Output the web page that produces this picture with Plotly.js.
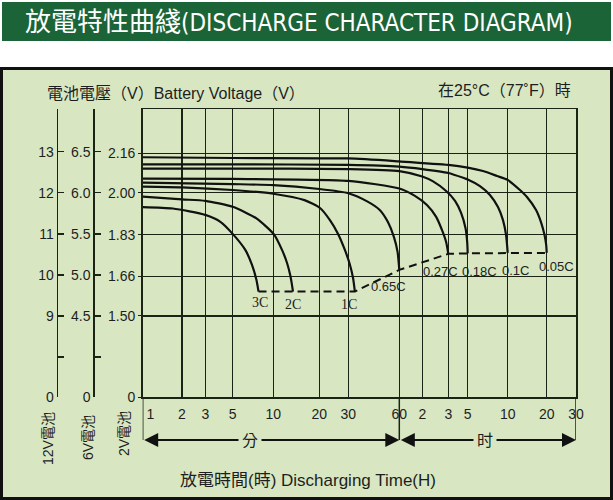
<!DOCTYPE html>
<html><head><meta charset="utf-8">
<script src="https://cdn.plot.ly/plotly-3.0.1.min.js"></script>
<style>html,body{margin:0;padding:0;background:#fff;} #chart{width:613px;height:500px;}</style>
</head><body><div id="chart"></div>
<script>
// ===== DATA =====
// time axis ticks (minutes) and their labels (minutes up to 60, then hours)
const tickMinutes = [1, 2, 3, 5, 10, 20, 30, 60, 120, 180, 300, 600, 1200, 1800];
const tickLabels  = ['1','2','3','5','10','20','30','60','2','3','5','10','20','30'];
// voltage ticks
const volt2V  = [1.50, 1.66, 1.83, 2.00, 2.16];
const volt2VLabels = ['1.50','1.66','1.83','2.00','2.16'];
const volt6V  = [4, 4.5, 5.0, 5.5, 6.0, 6.5];
const volt6VLabels = ['', '4.5', '5.0', '5.5', '6.0', '6.5'];
const volt12V = [8, 9, 10, 11, 12, 13];
const volt12VLabels = ['', '9', '10', '11', '12', '13'];

// discharge curves: time (minutes) and per-cell voltage (V)
const rates = ['3C','2C','1C','0.65C','0.27C','0.18C','0.1C','0.05C'];
const t_3C   = [1, 1.7, 3, 4, 5, 6.2, 6.95, 7.5, 7.77];
const v_3C   = [1.942, 1.936, 1.910, 1.881, 1.833, 1.768, 1.707, 1.646, 1.599];
const t_2C   = [1, 2, 3, 5, 7.5, 10.1, 11.4, 12.3, 12.9, 13.25, 13.45];
const v_2C   = [1.984, 1.973, 1.967, 1.943, 1.896, 1.831, 1.768, 1.715, 1.666, 1.626, 1.599];
const t_1C   = [1, 2, 5, 10, 16, 20.2, 23.2, 26, 28.6, 30.7, 32, 32.8];
const v_1C   = [2.025, 2.022, 2.011, 1.996, 1.970, 1.938, 1.889, 1.833, 1.768, 1.707, 1.654, 1.599];
const t_065C = [1, 5, 10, 20, 30, 39, 46, 51.4, 55.8, 58.6, 60];
const v_065C = [2.041, 2.035, 2.031, 2.015, 1.998, 1.964, 1.930, 1.881, 1.820, 1.760, 1.687];
const t_027C = [1, 5, 30, 60, 96, 129, 149, 163, 174, 180];
const v_027C = [2.057, 2.056, 2.048, 2.017, 1.987, 1.950, 1.902, 1.849, 1.800, 1.752];
const t_018C = [1, 5, 30, 60, 120, 142, 174, 215, 252, 283, 296, 300];
const v_018C = [2.098, 2.098, 2.096, 2.088, 2.066, 2.046, 2.007, 1.967, 1.918, 1.857, 1.800, 1.754];
const t_01C  = [1, 5, 30, 60, 120, 180, 279, 300, 371, 441, 507, 553, 583, 600];
const v_01C  = [2.115, 2.115, 2.113, 2.106, 2.096, 2.080, 2.058, 2.054, 2.027, 1.991, 1.942, 1.889, 1.829, 1.756];
const t_005C = [1, 5, 30, 60, 180, 300, 391, 498, 600, 746, 845, 993, 1084, 1154, 1189, 1200];
const v_005C = [2.144, 2.141, 2.139, 2.127, 2.113, 2.102, 2.088, 2.068, 2.052, 2.011, 1.983, 1.930, 1.881, 1.829, 1.788, 1.756];
// end-of-discharge (cut-off) line
const t_cut = [7.77, 13.45, 32.8, 60, 180, 300, 600, 1200];
const v_cut = [1.599, 1.599, 1.599, 1.687, 1.752, 1.754, 1.756, 1.756];

// ===== LAYOUT / SCALE (not data) =====
const W = 613, H = 500;
const PLOT_L = 142.7, PLOT_R = 576, PLOT_T = 109.3, PLOT_B = 397.3;
// custom time scale: axis position (units) of each tick (non-uniform chart grid)
const XTICK_POS = [0, 39.3, 62.6, 90, 130.6, 176.6, 205.6, 256.6, 279.6, 305.6, 325, 365, 404, 433.3];
const Y_MIN = 1.170, Y_MAX = 2.3385;  // per-cell volts at bottom/top of plot
function toAxis(t) {
  for (let i = 0; i < tickMinutes.length - 1; i++) {
    const a = tickMinutes[i], b = tickMinutes[i + 1];
    if (t <= b || i === tickMinutes.length - 2) {
      const f = Math.log(t / a) / Math.log(b / a);
      return XTICK_POS[i] + f * (XTICK_POS[i + 1] - XTICK_POS[i]);
    }
  }
}
const px = x => x / W, py = y => 1 - y / H;

const INK = '#1b2414';
const BG = '#d8e7c2';
const series = [
  [t_3C, v_3C], [t_2C, v_2C], [t_1C, v_1C], [t_065C, v_065C],
  [t_027C, v_027C], [t_018C, v_018C], [t_01C, v_01C], [t_005C, v_005C]
];
const traces = series.map((s, i) => ({
  type: 'scatter', mode: 'lines', name: rates[i],
  x: s[0].map(toAxis), y: s[1],
  line: {color: '#111', width: 2.2, shape: 'spline', smoothing: 0.6},
  hoverinfo: 'skip', showlegend: false
}));
traces.push({
  type: 'scatter', mode: 'lines', name: 'cut-off',
  x: t_cut.map(toAxis), y: v_cut,
  line: {color: '#111', width: 2, dash: '8px,5px'},
  hoverinfo: 'skip', showlegend: false
});

// label offsets (px) relative to each curve end
const labelOffsets = [[1,-11],[0,-13],[-6,-13],[-11,-17],[-8,-18],[12,-18],[8,-18],[10,-14]];
const labelSerif = [true, true, true, false, false, false, false, false];
const annotations = series.map((s, i) => ({
  x: toAxis(s[0][s[0].length - 1]), y: s[1][s[1].length - 1], xref: 'x', yref: 'y',
  text: rates[i], showarrow: false, xanchor: 'center', yanchor: 'middle',
  xshift: labelOffsets[i][0], yshift: labelOffsets[i][1],
  font: {family: labelSerif[i] ? 'Liberation Serif, serif' : 'Liberation Sans, Arial, sans-serif', size: labelSerif[i] ? 14 : 13, color: '#222'}
}));

const CJK = 'Liberation Sans, Arial, Noto Sans CJK TC, sans-serif';
const ARROW_Y = py(440);
const txt = (x, y, text, size, extra) => Object.assign({xref: 'paper', yref: 'paper', x: px(x), y: py(y),
  xanchor: 'center', yanchor: 'middle', showarrow: false, text: text,
  font: {family: CJK, size: size, color: '#1e1e1e'}}, extra || {});
annotations.push(
  txt(45, 94, '電池電壓（V）Battery Voltage（V）', 16, {xanchor: 'left'}),
  txt(436, 91, '在25°C（77˚F）時', 16, {xanchor: 'left'}),
  txt(307.5, 480, '放電時間(時) Discharging Time(H)', 17),
  txt(48, 438, '12V電池', 14, {textangle: -90}),
  txt(88, 437, '6V電池', 14, {textangle: -90}),
  txt(124, 434, '2V電池', 14, {textangle: -90}),
  // double arrows: minutes and hours
  {xref: 'x', yref: 'paper', x: toAxis(60), y: ARROW_Y, axref: 'x', ayref: 'pixel', ax: toAxis(1), ay: 0,
   text: '', showarrow: true, arrowside: 'end+start', arrowhead: 2, arrowsize: 1.4, arrowwidth: 2, arrowcolor: '#111', standoff: 0, startstandoff: 0},
  {xref: 'x', yref: 'paper', x: toAxis(1800), y: ARROW_Y, axref: 'x', ayref: 'pixel', ax: toAxis(60), ay: 0,
   text: '', showarrow: true, arrowside: 'end+start', arrowhead: 2, arrowsize: 1.4, arrowwidth: 2, arrowcolor: '#111', standoff: 0, startstandoff: 0},
  txt(250, 440, '分', 16, {bgcolor: BG, borderpad: 3}),
  txt(485, 440, '时', 16, {bgcolor: BG, borderpad: 3})
);

const shapes = [
  {type: 'rect', xref: 'paper', yref: 'paper', x0: px(2), x1: px(611), y0: py(41), y1: py(2),
   fillcolor: '#1b6437', line: {width: 0}, layer: 'below'},
  {type: 'rect', xref: 'paper', yref: 'paper', x0: px(1.5), x1: px(611.5), y0: py(498.5), y1: py(68.5),
   fillcolor: BG, line: {color: '#111', width: 3}, layer: 'below'},
  // vertical extensions of 1 min, 60 min and 30 h lines down to the arrows
  ...[1, 60, 1800].map(t => ({type: 'line', xref: 'x', yref: 'paper', x0: toAxis(t), x1: toAxis(t),
    y0: py(PLOT_B), y1: ARROW_Y, line: {color: INK, width: 1.5}, layer: 'above'}))
];

// first time label sits just right of the axis line in the original
const shownTickLabels = tickLabels.map((s, i) => i === 0 ? '\u00a0\u00a0\u00a0\u00a0' + s : s);

const tickFont = {family: 'Liberation Sans, Arial, sans-serif', size: 14, color: '#1e1e1e'};
const yDomain = [py(PLOT_B), py(PLOT_T)];
const layout = {
  width: W, height: H,
  margin: {l: 0, r: 0, t: 0, b: 0},
  paper_bgcolor: '#ffffff', plot_bgcolor: 'rgba(0,0,0,0)',
  title: {text: '放電特性曲綫<span style="font-size:24px">(DISCHARGE CHARACTER DIAGRAM)</span>',
          x: px(25), xanchor: 'left', xref: 'container',
          y: py(22), yanchor: 'middle', yref: 'container',
          font: {family: 'Liberation Sans Narrow, Arial Narrow, DejaVu Sans Condensed, Noto Sans CJK TC, sans-serif', size: 26, color: '#ffffff'}},
  xaxis: {domain: [px(PLOT_L), px(PLOT_R)], range: [XTICK_POS[0], XTICK_POS[XTICK_POS.length - 1]],
          tickmode: 'array', tickvals: XTICK_POS, ticktext: shownTickLabels,
          showgrid: true, gridcolor: INK, gridwidth: 1.4, zeroline: false,
          showline: true, mirror: true, linecolor: INK, linewidth: 1.6,
          ticks: 'outside', ticklen: 0, tickcolor: INK, ticklabelstandoff: 3, tickfont: tickFont, fixedrange: true},
  yaxis: {domain: yDomain, range: [Y_MIN, Y_MAX], tickmode: 'array',
          tickvals: [Y_MIN].concat(volt2V), ticktext: ['0'].concat(volt2VLabels),
          showgrid: true, gridcolor: INK, gridwidth: 1.4, zeroline: false,
          showline: true, mirror: true, linecolor: INK, linewidth: 1.6,
          ticks: 'outside', ticklen: 3, tickcolor: INK, tickfont: tickFont, fixedrange: true},
  yaxis2: {overlaying: 'y', anchor: 'free', position: px(56.7), side: 'left',
           range: [Y_MIN * 6, Y_MAX * 6], tickmode: 'array',
           tickvals: [Y_MIN * 6 + 0.002].concat(volt12V, [Y_MAX * 6 - 0.002]),
           ticktext: ['0'].concat(volt12VLabels, ['']),
           showgrid: false, zeroline: false, showline: true, linecolor: INK, linewidth: 1.5,
           ticks: 'inside', ticklen: 6, tickwidth: 1.5, tickcolor: INK, tickfont: tickFont, fixedrange: true},
  yaxis3: {overlaying: 'y', anchor: 'free', position: px(93.3), side: 'left',
           range: [Y_MIN * 3, Y_MAX * 3], tickmode: 'array',
           tickvals: [Y_MIN * 3 + 0.001].concat(volt6V, [Y_MAX * 3 - 0.001]),
           ticktext: ['0'].concat(volt6VLabels, ['']),
           showgrid: false, zeroline: false, showline: true, linecolor: INK, linewidth: 1.5,
           ticks: 'inside', ticklen: 6, tickwidth: 1.5, tickcolor: INK, tickfont: tickFont, fixedrange: true},
  showlegend: false,
  annotations: annotations,
  shapes: shapes
};
// empty traces so the extra voltage axes are drawn
traces.push({type: 'scatter', mode: 'lines', x: [], y: [], yaxis: 'y2', hoverinfo: 'skip', showlegend: false});
traces.push({type: 'scatter', mode: 'lines', x: [], y: [], yaxis: 'y3', hoverinfo: 'skip', showlegend: false});

Plotly.newPlot('chart', traces, layout, {staticPlot: true, displayModeBar: false});
</script></body></html>
